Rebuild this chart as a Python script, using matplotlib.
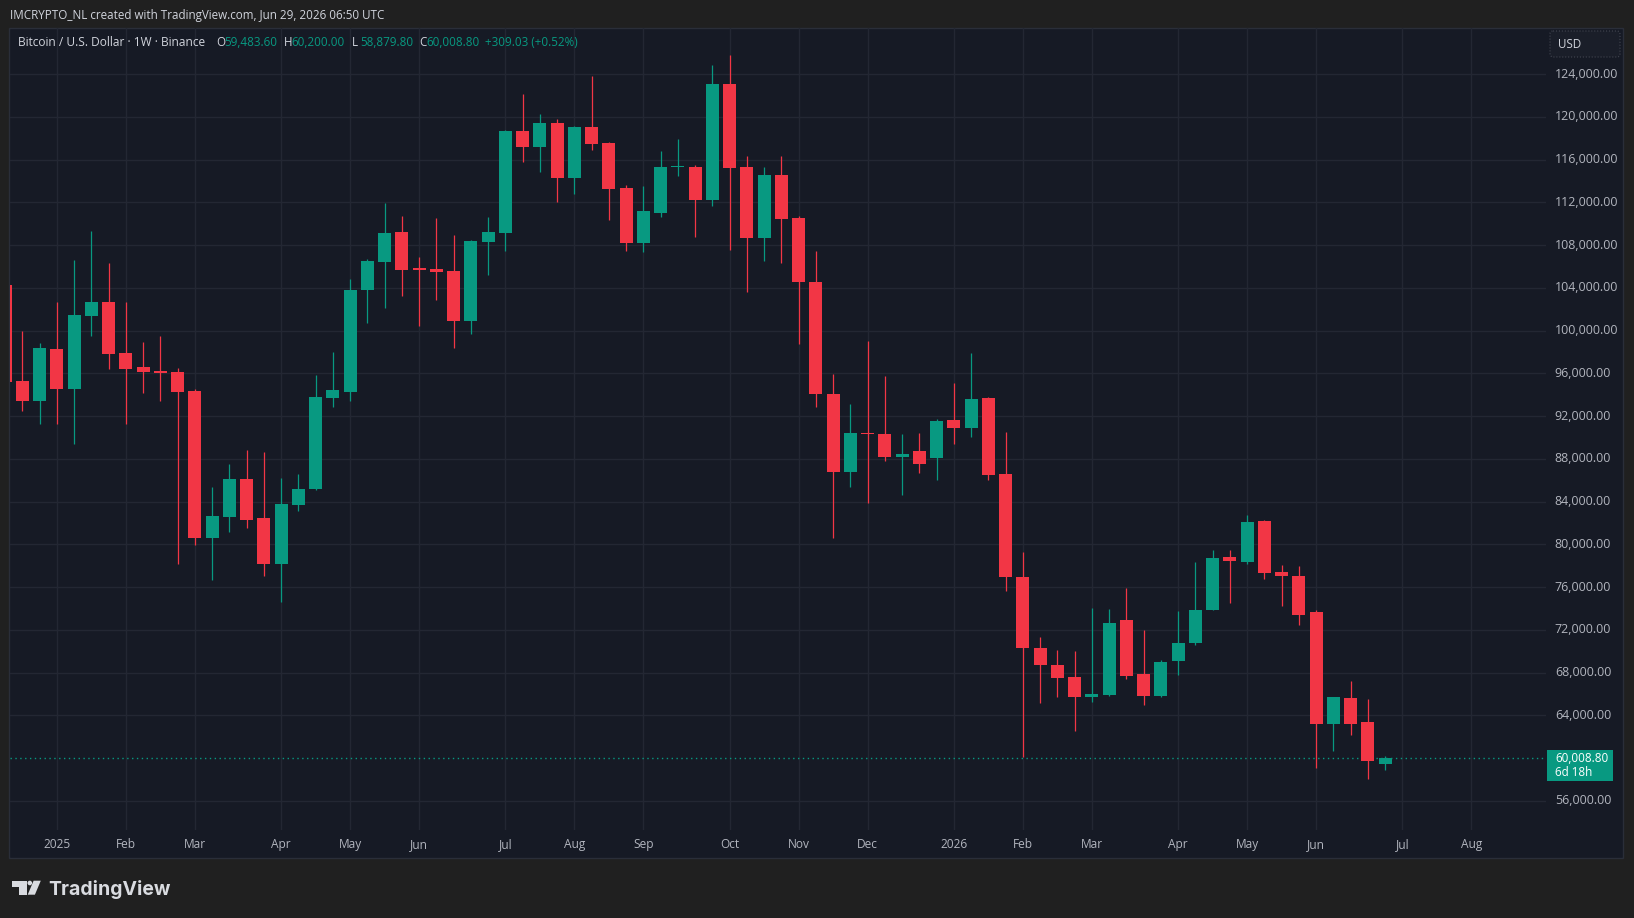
import numpy as np
import pandas as pd
import matplotlib
matplotlib.use('Agg')
import matplotlib.pyplot as plt
import matplotlib.dates as mdates
import matplotlib.transforms as mtransforms
from matplotlib.patches import Rectangle, Polygon, Circle, FancyBboxPatch
from matplotlib.ticker import FuncFormatter

# weekly BTCUSD candles, Binance
first_week = '2024-12-16'
opens = [104261, 95280, 93438, 98274, 94560, 101361, 102671, 97900, 96590, 96216,
         96122, 94345, 80621, 82585, 86113, 82464, 78189, 83681, 85177, 93718,
         94280, 103821, 106441, 109219, 105824, 105758, 105571, 100922, 108284, 109154,
         118668, 117171, 119416, 114299, 119042, 117546, 113336, 108218, 111025, 115330,
         115300, 112241, 123065, 115300, 108686, 114552, 110529, 104561, 94111, 86805,
         90444, 90350, 88143, 88741, 88040, 91651, 90847, 93718, 86599, 76991,
         70275, 68740, 67608, 65737, 65905, 72922, 67870, 65812, 69086, 70770,
         73857, 78815, 78348, 82184, 77413, 77039, 73670, 63193, 65625, 63380,
         59483.60]
highs = [108353, 99958, 98835, 102671, 106600, 109313, 106319, 102671, 98929, 99490,
         96497, 94532, 85364, 87516, 88825, 88638, 86206, 86580, 95842, 97993,
         104823, 106693, 111932, 110716, 106881, 110529, 108939, 108471, 110622, 118762,
         122129, 120258, 119791, 119136, 123813, 117640, 113617, 113523, 116797, 117920,
         115487, 124842, 125778, 116329, 115300, 116329, 110744, 107433, 95954, 93147,
         99022, 95748, 90341, 90444, 91744, 95112, 97919, 93800, 90509, 79293,
         71341, 70144, 70041, 74082, 73951, 75916, 71986, 69180, 73764, 78348,
         79470, 79470, 82745, 82277, 78067, 77974, 73857, 65760, 67215, 65531,
         60200.00]
lows = [92175, 92502, 91286, 91286, 89415, 99490, 96431, 91286, 94186, 93438,
        78189, 79966, 76692, 81182, 81557, 77067, 74606, 83119, 85100, 92876,
        93438, 100734, 102138, 103261, 100454, 102886, 98395, 99705, 105225, 107470,
        115768, 114860, 112054, 112802, 116919, 110370, 107470, 107377, 110651, 114486,
        108780, 111680, 107564, 103634, 106534, 106347, 98742, 92876, 80556, 85336,
        83830, 87834, 84569, 86636, 86038, 89340, 90079, 86065, 75681, 60124,
        65139, 65700, 62566, 65270, 65800, 67402, 64970, 65718, 67777, 70583,
        73857, 74512, 78161, 76758, 74232, 72454, 59077, 60667, 62164, 58048,
        58879.80]
closes = [95187, 93437, 98368, 94560, 101455, 102671, 97834, 96431, 96150, 96029,
          94280, 80621, 82651, 86113, 82305, 78189, 83774, 85177, 93784, 94438,
          103793, 106506, 109126, 105693, 105700, 105505, 100922, 108377, 109219, 118668,
          117171, 119416, 114299, 119042, 117480, 113270, 108218, 111184, 115300, 115420,
          112241, 123065, 115235, 108686, 114552, 110464, 104561, 94111, 86805, 90444,
          90350, 88143, 88442, 87535, 91539, 90847, 93615, 86533, 76991, 70275,
          68740, 67542, 65737, 65999, 72641, 67683, 65812, 68993, 70770, 73857,
          78722, 78441, 82090, 77319, 77039, 73390, 63193, 65718, 63193, 59699.77,
          60008.80]

price_ticks = [56000, 64000, 68000, 72000, 76000, 80000, 84000, 88000, 92000, 96000,
               100000, 104000, 108000, 112000, 116000, 120000, 124000]

UP = '#089981'
DOWN = '#f23645'
TXT = '#d1d4dc'
AXT = '#b2b5be'
PANEL = '#161a25'
GRID = '#232733'
FS = 8.4

W, H = 1634, 918
plt.rcParams['font.family'] = ['Open Sans', 'DejaVu Sans']

dates = pd.date_range(first_week, periods=len(opens), freq='W-MON')
xs = mdates.date2num(dates.to_pydatetime())
o = np.array(opens); c = np.array(closes)
hi = np.array(highs); lo = np.array(lows)
cols = np.where(c >= o, UP, DOWN)

fig = plt.figure(figsize=(W / 100, H / 100), dpi=100)
fig.patch.set_facecolor('#202020')

# background layer in pixel coords
bg = fig.add_axes([0, 0, 1, 1], zorder=0)
bg.set_xlim(0, W); bg.set_ylim(H, 0); bg.axis('off')
bg.add_patch(Rectangle((9.5, 28), 1613.5, 829.5, fc=PANEL, ec='#2a2e39', lw=1))

# price pane
ax = fig.add_axes([10 / W, 1 - 830 / H, 1536 / W, 802 / H], zorder=1)
ax.set_facecolor('none')
for s in ax.spines.values():
    s.set_visible(False)

ax.vlines(xs, lo, hi, colors=cols, lw=0.9, zorder=3)
body_h = np.maximum(np.abs(c - o), 100)
ax.bar(xs, body_h, bottom=np.minimum(o, c), width=5.3, color=cols, lw=0, zorder=4)

# month ticks at first weekly bar of each month
weeks = pd.date_range(first_week, '2026-08-31', freq='W-MON')
firsts = weeks.to_series().groupby([weeks.year, weeks.month]).first()
tick_x = mdates.date2num([d.to_pydatetime() for d in firsts])
tick_lab = [str(d.year) if d.month == 1 else d.strftime('%b') for d in firsts]
ax.set_xticks(tick_x)
ax.set_xticklabels(tick_lab)

ax.yaxis.tick_right()
ax.set_yticks(price_ticks)
ax.yaxis.set_major_formatter(FuncFormatter(lambda v, p: f'{v:,.2f}'))
ax.tick_params(axis='y', length=0, pad=6.3, labelsize=8.9, labelcolor=AXT)
ax.tick_params(axis='x', length=0, pad=6, labelsize=8.6, labelcolor=AXT)
ax.grid(True, color=GRID, lw=1, zorder=0)
ax.set_axisbelow(True)
lift = mtransforms.ScaledTranslation(0, 1.5 / 100, fig.dpi_scale_trans)
for lab in ax.get_yticklabels():
    lab.set_transform(lab.get_transform() + lift)

ax.set_xlim(xs[0] + 2, xs[0] + 625.3)
ax.set_ylim(53276, 128304)

last = closes[-1]
ax.axhline(last, color=UP, lw=1, ls=(0, (1, 2.5)), zorder=2)

# overlay layer in pixel coords
ov = fig.add_axes([0, 0, 1, 1], zorder=3)
ov.set_xlim(0, W); ov.set_ylim(H, 0); ov.axis('off')

ov.text(10, 15, 'IMCRYPTO_NL created with TradingView.com, Jun 29, 2026 06:50 UTC',
        color=TXT, fontsize=FS, va='center', ha='left')

ly = 42
ov.text(18, ly, 'Bitcoin / U.S. Dollar · 1W · Binance', color=TXT, fontsize=8.6, va='center')
chg = closes[-1] - closes[-2]
pct = chg / closes[-2] * 100
parts = [('O', opens[-1], 216.5), ('H', highs[-1], 284), ('L', lows[-1], 352), ('C', closes[-1], 419)]
for lab, val, x0 in parts:
    ov.text(x0, ly, lab, color=TXT, fontsize=FS, va='center')
    ov.text(x0 + 7.8, ly, f'{val:,.2f}', color=UP, fontsize=FS, va='center')
ov.text(485, ly, f'{chg:+,.2f} ({pct:+.2f}%)', color=UP, fontsize=FS, va='center')

# currency box
ov.add_patch(FancyBboxPatch((1550, 31), 70, 26, boxstyle='round,pad=0,rounding_size=3',
                            fc='#1a1e29', ec='#434651', lw=0.8, ls=':'))
ov.text(1558, 44.5, 'USD', color=TXT, fontsize=FS, va='center')

# last price tag
y_last = H - ax.transData.transform((xs[0], last))[1]
ov.add_patch(Rectangle((1547, y_last - 8), 66, 31, fc=UP, ec='none'))
ov.text(1555, y_last, f'{last:,.2f}', color='white', fontsize=FS, va='center')
ov.text(1555, y_last + 14, '6d 18h', color='white', fontsize=FS, va='center')

# TradingView logo
logo = '#d9dbe0'
ov.add_patch(Polygon([(12.3, 880.7), (26.7, 880.7), (26.7, 894.7), (19.3, 894.7),
                      (19.3, 887.2), (12.3, 887.2)], closed=True, fc=logo, ec='none'))
ov.add_patch(Circle((29.8, 883.0), 2.3, fc=logo, ec='none'))
ov.add_patch(Polygon([(33.6, 880.7), (40.8, 880.7), (34.9, 894.7), (27.7, 894.7)],
                     closed=True, fc=logo, ec='none'))
ov.text(48.5, 894.7, 'TradingView', color=logo, fontsize=14.0, fontweight='bold',
        family=['Inter', 'DejaVu Sans'], va='baseline', ha='left')

fig.savefig('out.png', dpi=100, facecolor=fig.get_facecolor())
plt.close(fig)
